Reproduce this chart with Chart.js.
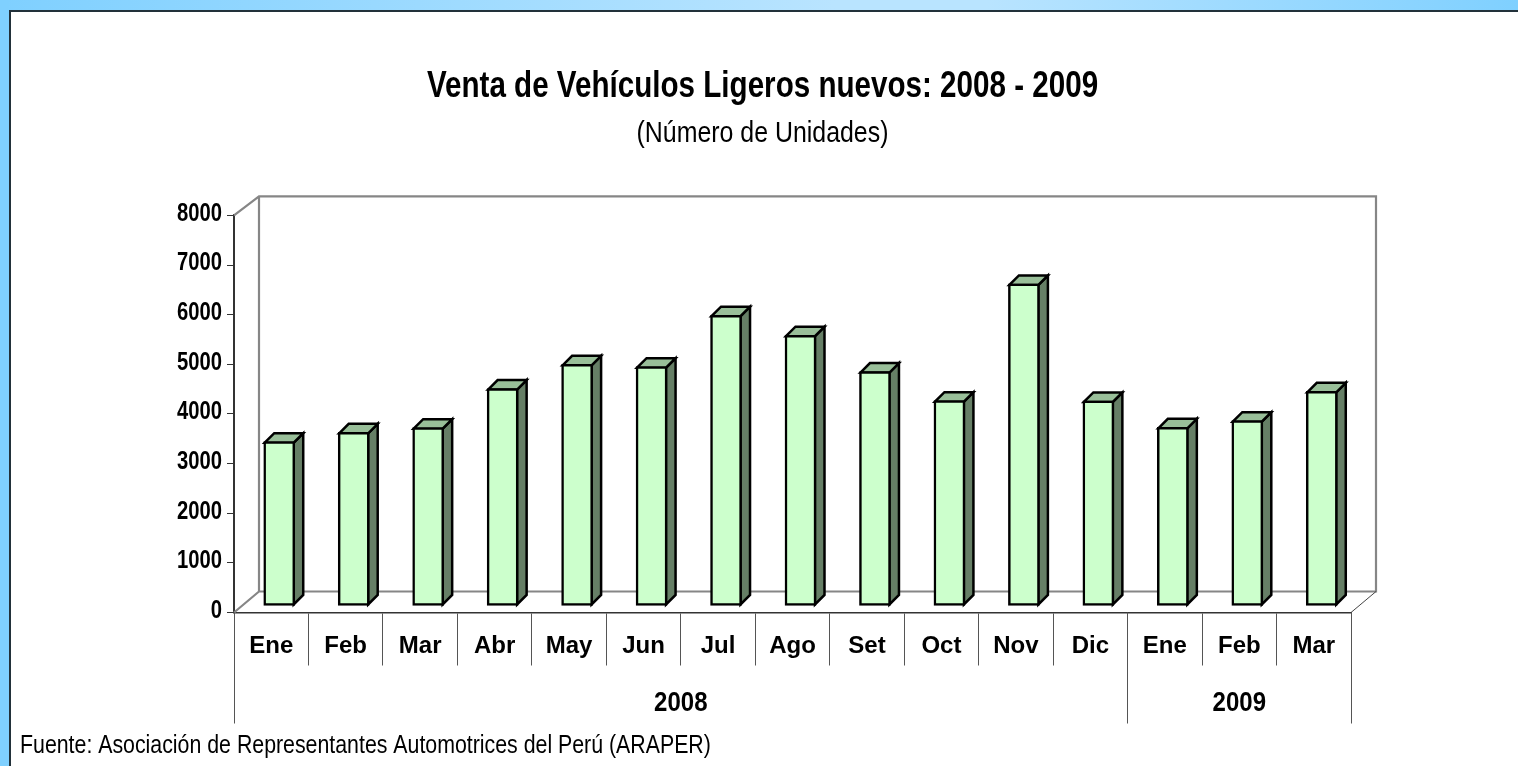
<!DOCTYPE html>
<html>
<head>
<meta charset="utf-8">
<title>Venta de Vehículos Ligeros nuevos</title>
<script src="https://cdn.jsdelivr.net/npm/chart.js@4"></script>
<style>
  html, body { margin: 0; padding: 0; width: 1518px; height: 766px; overflow: hidden; background: #fff; }
  #franja { position: absolute; left: 0; top: 0; width: 1518px; height: 10px;
    background: linear-gradient(to right, #7fd0ff 0%, #b9e4ff 55%, #b9e4ff 65%, #7fd0ff 100%); }
  #lateral { position: absolute; left: 0; top: 0; width: 9px; height: 766px; background: #7fd0ff; }
  #panel { position: absolute; left: 9px; top: 10px; right: 0; bottom: 0; border-left: 2px solid #22313a; border-top: 2px solid #22313a; }
  canvas { position: absolute; left: 0; top: 0; }
</style>
</head>
<body>
<div id="franja"></div>
<div id="lateral"></div>
<div id="panel"></div>
<canvas id="grafica" width="1518" height="766"></canvas>
<script>
// Datos
const meses = ['Ene', 'Feb', 'Mar', 'Abr', 'May', 'Jun', 'Jul', 'Ago', 'Set', 'Oct', 'Nov', 'Dic', 'Ene', 'Feb', 'Mar'];
const unidades = [3310, 3500, 3593, 4380, 4870, 4822, 5858, 5455, 4722, 4137, 6489, 4131, 3600, 3734, 4326];
const anios = ['2008', '2009'];
const mesesPorAnio = [12, 3];
const fuente = 'Fuente: Asociación de Representantes Automotrices del Perú (ARAPER)';

const FUENTE = '"Liberation Sans", sans-serif';

// No hay Arial Narrow: se estrecha el texto según el tamaño de letra
const estrechos = { 37: 0.8, 30: 0.83, 27: 0.89, 26: 0.82, 25: 0.81 };
const ctx = document.getElementById('grafica').getContext('2d');
const fillTextOriginal = ctx.fillText.bind(ctx);
ctx.fillText = (texto, x, y) => {
  const tam = parseInt(ctx.font.match(/(\d+)px/)[1]);
  fillTextOriginal(texto, x, y, ctx.measureText(texto).width * (estrechos[tam] || 1));
};

// Plugin para simular el efecto 3D de Excel
const efecto3D = {
  id: 'efecto3D',
  beforeDatasetsDraw(chart) {
    const { ctx, scales: { x, y } } = chart;
    const fondoX = 25, fondoY = 21;
    ctx.save();
    ctx.strokeStyle = '#868686';
    ctx.lineWidth = 2.2;
    ctx.beginPath();
    ctx.moveTo(x.left, y.top);
    ctx.lineTo(x.left + fondoX, y.top - 19);
    ctx.lineTo(x.right + fondoX, y.top - 19);
    ctx.lineTo(x.right + fondoX, y.bottom - fondoY);
    ctx.lineTo(x.left + fondoX, y.bottom - fondoY);
    ctx.lineTo(x.left + fondoX, y.top - 19);
    ctx.moveTo(x.left, y.bottom);
    ctx.lineTo(x.left + fondoX, y.bottom - fondoY);
    ctx.stroke();
    ctx.lineWidth = 1;
    ctx.strokeStyle = '#444';
    ctx.beginPath();
    ctx.moveTo(x.right, y.bottom);
    ctx.lineTo(x.right + fondoX, y.bottom - fondoY);
    ctx.stroke();
    ctx.restore();
  },
  // Caras lateral y superior, antes de la cara frontal
  beforeDatasetDraw(chart, args) {
    const { ctx } = chart;
    const desp = { x: 8, y: -6.5 };
    const prof = 9.5;
    ctx.save();
    ctx.translate(desp.x, desp.y);
    ctx.lineWidth = 2.5;
    ctx.strokeStyle = '#000';
    ctx.lineJoin = 'miter';
    args.meta.data.forEach((barra) => {
      const izq = barra.x - barra.width / 2 + 1;
      const der = barra.x + barra.width / 2 - 1;
      const arriba = barra.y + 1;
      const abajo = barra.base - 1;
      ctx.fillStyle = '#667f66';
      ctx.beginPath();
      ctx.moveTo(der, arriba);
      ctx.lineTo(der + prof, arriba - prof);
      ctx.lineTo(der + prof, abajo - prof);
      ctx.lineTo(der, abajo);
      ctx.closePath();
      ctx.fill();
      ctx.stroke();
      ctx.fillStyle = '#99bf99';
      ctx.beginPath();
      ctx.moveTo(izq, arriba);
      ctx.lineTo(izq + prof, arriba - prof);
      ctx.lineTo(der + prof, arriba - prof);
      ctx.lineTo(der, arriba);
      ctx.closePath();
      ctx.fill();
      ctx.stroke();
    });
    ctx.restore();
    ctx.save();
    ctx.translate(desp.x, desp.y);
  },
  afterDatasetDraw(chart) {
    chart.ctx.restore();
  },
  // Separadores largos, años y fuente
  afterDraw(chart) {
    const { ctx, scales: { x, y } } = chart;
    const paso = (x.right - x.left) / meses.length;
    ctx.save();
    ctx.strokeStyle = '#555';
    ctx.lineWidth = 1;
    ctx.fillStyle = '#000';
    ctx.textAlign = 'center';
    ctx.textBaseline = 'middle';
    ctx.font = 'bold 27px ' + FUENTE;
    let inicio = 0;
    const linea = (px) => {
      ctx.beginPath();
      ctx.moveTo(Math.floor(px) + 0.5, y.bottom);
      ctx.lineTo(Math.floor(px) + 0.5, y.bottom + 111);
      ctx.stroke();
    };
    linea(x.left);
    anios.forEach((anio, i) => {
      const fin = inicio + mesesPorAnio[i];
      linea(x.left + fin * paso);
      ctx.fillText(anio, x.left + (inicio + fin) / 2 * paso, y.bottom + 91);
      inicio = fin;
    });
    ctx.textAlign = 'left';
    ctx.font = '26px ' + FUENTE;
    ctx.fillText(fuente, 20, 746);
    ctx.restore();
  }
};

new Chart(ctx, {
  type: 'bar',
  data: {
    labels: meses,
    datasets: [{
      data: unidades,
      backgroundColor: '#ccffcc',
      borderColor: '#000',
      borderWidth: 2.5,
      borderSkipped: false,
      barThickness: 31,
      clip: false
    }]
  },
  options: {
    responsive: false,
    animation: false,
    layout: { padding: { left: 174, right: 167, top: 0, bottom: 42.5 } },
    plugins: {
      legend: { display: false },
      tooltip: { enabled: false },
      title: {
        display: true,
        text: 'Venta de Vehículos Ligeros nuevos: 2008 - 2009',
        color: '#000',
        font: { family: FUENTE, size: 37, weight: 'bold', lineHeight: 1.2 },
        padding: { top: 64.5, bottom: 6.5 }
      },
      subtitle: {
        display: true,
        text: '(Número de Unidades)',
        color: '#000',
        font: { family: FUENTE, size: 30, weight: 'normal', lineHeight: 1.2 },
        padding: { top: 0, bottom: 64 }
      }
    },
    scales: {
      x: {
        grid: { offset: true, drawOnChartArea: false, color: '#555', tickLength: 53, tickWidth: 1 },
        border: { color: '#333', width: 1.5 },
        ticks: { color: '#000', font: { family: FUENTE, size: 24, weight: 'bold' }, padding: -34, maxRotation: 0, autoSkip: false },
        afterFit(scale) { scale.height = 111; }
      },
      y: {
        min: 0,
        max: 8000,
        grid: { drawOnChartArea: false, color: '#333', tickLength: 7, tickWidth: 1 },
        border: { color: '#333', width: 2 },
        ticks: {
          stepSize: 1000,
          color: '#000',
          padding: 5,
          font: { family: FUENTE, size: 25, weight: 'bold', lineHeight: '3px' },
          callback: (valor) => [String(valor), '']
        },
        afterFit(scale) { scale.width = 60; }
      }
    }
  },
  plugins: [efecto3D]
});
</script>
</body>
</html>
